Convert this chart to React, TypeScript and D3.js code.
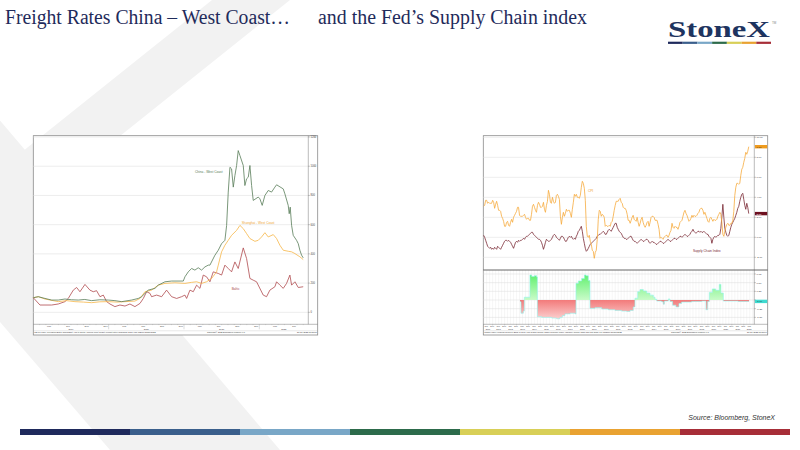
import React from 'react';
import * as d3 from 'd3';

// ---------------- Left chart: freight rates, rebased (months since 1-Jan-2019, value) ----------------
const chinaWestCoast: [number, number][] = [
  [0, 100], [0.8, 107], [1.86, 95], [2.92, 84], [3.98, 84], [5.04, 91], [6.1, 86], [7.17, 84], [8.2, 88], [9.29, 80],
  [10.6, 86], [11.94, 84], [13, 80], [14.07, 73], [15.66, 84], [16.72, 95], [17.25, 107], [18.31, 152], [19.37, 164],
  [19.9, 186], [20.97, 209], [22.03, 214], [23.89, 214], [24.15, 243], [24.68, 277], [25.21, 300], [25.74, 289],
  [26.27, 305], [26.8, 289], [27.34, 311], [27.87, 323], [28.13, 323], [28.93, 391], [29.46, 425], [29.99, 470],
  [30.52, 493], [30.79, 595], [31.05, 823], [31.32, 993], [31.58, 982], [31.85, 857], [32.11, 936], [32.38, 1005],
  [32.64, 1107], [32.91, 1073], [33.44, 1005], [33.7, 868], [33.97, 914], [34.24, 925], [34.5, 1005], [34.77, 868],
  [35.03, 766], [35.83, 789], [36.09, 777], [36.46, 732], [36.89, 800], [37.42, 834], [37.95, 823], [38.48, 857],
  [38.75, 873], [39.81, 845], [40.07, 811], [40.6, 732], [40.76, 675], [40.92, 720], [41.14, 595], [41.4, 527],
  [41.93, 493], [42.2, 470], [42.46, 425], [42.73, 391], [42.99, 373],
];
const shanghaiWestCoast: [number, number][] = [
  [0, 100], [0.8, 107], [1.86, 91], [3.98, 73], [5.3, 80], [6.63, 73], [8, 70], [9.29, 66], [10.6, 72], [11.94, 73],
  [13.3, 70], [14.6, 73], [16.19, 77], [16.99, 95], [17.78, 141], [18.84, 152], [19.9, 186], [20.97, 198],
  [22.56, 202], [24.15, 198], [25.21, 205], [26.01, 209], [26.8, 198], [27.6, 209], [28.4, 232], [29.19, 277],
  [29.46, 323], [29.99, 414], [30.52, 459], [31.05, 493], [31.58, 527], [32.38, 561], [32.91, 595], [33.44, 573],
  [33.97, 539], [34.5, 505], [35.3, 486], [35.83, 493], [36.36, 516], [36.89, 545], [37.42, 516], [38.22, 532],
  [38.75, 505], [39.28, 459], [39.81, 425], [40.6, 418], [41.14, 414], [41.67, 402], [42.46, 380], [42.99, 361],
];
const baltic: [number, number][] = [
  [0, 100], [1.06, 50], [1.86, 50], [2.92, 50], [3.98, 57], [5.04, 73], [5.57, 95], [6.37, 152], [6.9, 170],
  [7.43, 141], [8.23, 191], [9.02, 152], [9.55, 141], [10.08, 148], [10.62, 107], [11.15, 118], [11.68, 73],
  [12.21, 57], [13.0, 39], [13.8, 50], [14.6, 43], [15.39, 57], [16.19, 39], [16.99, 61], [17.52, 95], [18.05, 141],
  [18.58, 130], [18.84, 107], [19.64, 118], [20.44, 107], [21.23, 152], [22.03, 107], [22.83, 95], [23.62, 107],
  [24.15, 118], [24.42, 95], [24.95, 152], [25.48, 141], [26.01, 186], [26.54, 164], [27.07, 255], [27.6, 243],
  [28.13, 209], [28.66, 277], [29.46, 266], [29.99, 255], [30.52, 323], [31.05, 300], [31.58, 277], [32.11, 345],
  [32.64, 300], [33.44, 441], [33.97, 368], [34.5, 232], [35.03, 220], [35.56, 209], [36.62, 118], [37.15, 107],
  [37.68, 152], [38.48, 175], [38.75, 209], [39.28, 186], [39.81, 164], [40.34, 198], [40.87, 255], [41.14, 186],
  [41.67, 209], [42.2, 170], [42.99, 175],
];
const leftYTicks = [0, 200, 400, 600, 800, 1000, 1200];
const quarterMonths = ['Mar', 'Jun', 'Sep', 'Dec'];
const leftYears = ['2019', '2020', '2021', '2022'];

// ---------------- Right chart: CPI YoY and GSCPI, monthly from Apr 2000 ----------------
const cpiYoY: number[] = [
  3.1, 3.2, 3.7, 3.7, 3.4, 3.5, 3.4, 3.4, 3.4,
  3.7, 3.5, 2.9, 3.3, 3.6, 3.2, 2.7, 2.7, 2.6, 2.1, 1.9, 1.6,
  1.1, 1.1, 1.5, 1.6, 1.2, 1.1, 1.5, 1.8, 1.5, 2.0, 2.2, 2.4,
  2.6, 3.0, 3.0, 2.2, 2.1, 2.1, 2.1, 2.2, 2.3, 2.0, 1.8, 1.9,
  1.9, 1.7, 1.7, 2.3, 3.1, 3.3, 3.0, 2.7, 2.5, 3.2, 3.5, 3.3,
  3.0, 3.0, 3.1, 3.5, 2.8, 2.5, 3.2, 3.6, 4.7, 4.3, 3.5, 3.4,
  4.0, 3.6, 3.4, 3.5, 4.2, 4.3, 4.1, 3.8, 2.1, 1.3, 2.0, 2.5,
  2.1, 2.4, 2.8, 2.6, 2.7, 2.7, 2.4, 2.0, 2.8, 3.5, 4.3, 4.1,
  4.3, 4.0, 4.0, 3.9, 4.2, 5.0, 5.6, 5.4, 4.9, 3.7, 1.1, 0.1,
  0.0, 0.2, -0.4, -0.7, -1.3, -1.4, -2.1, -1.5, -1.3, -0.2, 1.8, 2.7,
  2.6, 2.1, 2.3, 2.2, 2.0, 1.1, 1.2, 1.1, 1.1, 1.2, 1.1, 1.5,
  1.6, 2.1, 2.7, 3.2, 3.6, 3.6, 3.6, 3.8, 3.9, 3.5, 3.4, 3.0,
  2.9, 2.9, 2.7, 2.3, 1.7, 1.7, 1.4, 1.7, 2.0, 2.2, 1.8, 1.7,
  1.6, 2.0, 1.5, 1.1, 1.4, 1.8, 2.0, 1.5, 1.2, 1.0, 1.2, 1.5,
  1.6, 1.1, 1.5, 2.0, 2.1, 2.1, 2.0, 1.7, 1.7, 1.7, 1.3, 0.8,
  -0.1, 0.0, -0.1, -0.2, 0.0, 0.1, 0.2, 0.2, 0.0, 0.2, 0.5, 0.7,
  1.4, 1.0, 0.9, 1.1, 1.0, 1.0, 0.8, 1.1, 1.5, 1.6, 1.7, 2.1,
  2.5, 2.7, 2.4, 2.2, 1.9, 1.6, 1.7, 1.9, 2.2, 2.0, 2.2, 2.1,
  2.1, 2.2, 2.4, 2.5, 2.8, 2.9, 2.9, 2.7, 2.3, 2.5, 2.2, 1.9,
  1.6, 1.5, 1.9, 2.0, 1.8, 1.6, 1.8, 1.7, 1.7, 1.8, 2.1, 2.3,
  2.5, 2.3, 1.5, 0.3, 0.1, 0.6, 1.0, 1.3, 1.4, 1.2, 1.2, 1.4,
  1.4, 1.7, 2.6, 4.2, 5.0, 5.4, 5.4, 5.3, 5.4, 6.2, 6.8, 7.0,
  7.5, 7.9, 8.5, 8.3, 8.6, 9.06,
];
const supplyChainIndex: number[] = [
  0.2, 0.0, -0.3, -0.6, -0.9, -1.0, -1.1, -1.0, -1.2,
  -1.1, -1.2, -1.0, -1.1, -1.2, -0.9, -1.0, -1.1, -1.2, -1.0, -0.8, -0.6,
  -0.4, -0.3, -0.3, -0.4, -0.3, -0.4, -0.5, -0.7, -0.9, -1.1, -0.8, -0.5,
  -0.4, -0.5, -0.3, -0.4, -0.3, -0.3, -0.2, -0.1, -0.2, 0.0, 0.1, 0.1,
  0.2, 0.3, 0.4, 0.5, 0.5, 0.3, 0.2, 0.1, 0.0, -0.1, -0.2, -0.2,
  -0.3, -0.5, -0.8, -1.2, -0.9, -0.5, -0.2, -0.3, -0.4, -0.4, -0.3, -0.2,
  0.0, 0.2, 0.3, 0.2, 0.0, -0.1, -0.2, -0.3, -0.1, 0.1, 0.1, 0.0,
  -0.2, -0.4, -0.4, -0.2, 0.0, 0.1, 0.0, 0.1, -0.1, -0.2, -0.1, -0.2,
  0.1, 0.3, 0.6, 0.7, 0.9, 1.1, 0.6, -0.1, -0.6, -1.1, -1.4, -1.3,
  -1.1, -0.9, -0.7, -0.6, -0.5, -0.4, -0.3, -0.2, -0.1, 0.1, 0.2, 0.3,
  0.3, 0.4, 0.5, 0.6, 0.5, 0.3, 0.3, 0.5, 0.7, 0.8, 0.7, 0.6,
  0.8, 1.0, 1.2, 1.4, 1.4, 1.0, 0.8, 0.6, 0.5, 0.4, 0.2, 0.0,
  -0.1, -0.1, -0.2, -0.2, -0.1, 0.0, 0.1, 0.1, -0.1, -0.3, -0.4, -0.4,
  -0.5, -0.6, -0.5, -0.4, -0.3, -0.2, -0.3, -0.4, -0.4, -0.3, -0.2, -0.2,
  -0.3, -0.5, -0.6, -0.5, -0.4, -0.5, -0.5, -0.6, -0.7, -0.7, -0.6, -0.5,
  -0.4, -0.4, -0.5, -0.6, -0.6, -0.5, -0.4, -0.3, -0.2, -0.3, -0.4, -0.4,
  -0.3, -0.2, -0.1, -0.1, -0.2, -0.2, -0.1, 0.0, 0.1, 0.1, 0.0, 0.1,
  0.2, 0.3, 0.2, 0.1, 0.1, 0.2, 0.3, 0.5, 0.6, 0.8, 0.6, 0.5,
  0.4, 0.5, 0.6, 0.6, 0.5, 0.6, 0.5, 0.5, 0.6, 0.5, 0.4, 0.3,
  0.3, 0.1, 0.0, -0.1, -0.6, -0.2, 0.0, 0.1, 0.0, 0.1, 0.2, 0.2,
  0.3, 0.9, 2.0, 3.3, 2.0, 0.9, 0.5, 0.2, 0.1, 0.2, 0.6, 1.0,
  1.3, 1.5, 1.7, 1.9, 2.2, 2.5, 2.9, 3.1, 3.6, 4.0, 4.3, 4.4,
  3.8, 3.2, 2.8, 3.4, 3.0, 2.37,
];
// lower panel step indicator (year, value)
const stepYears = [
  2003.29, 2003.37, 2003.57, 2003.65, 2004.07, 2004.12, 2004.26, 2004.49, 2004.68, 2004.74, 2005.1, 2005.52,
  2005.94, 2006.35, 2006.63, 2006.83, 2007.05, 2007.47, 2007.89, 2007.97, 2008.17, 2008.44, 2008.67, 2008.81,
  2009.0, 2009.14, 2009.56, 2010.12, 2010.67, 2011.23, 2011.79, 2012.21, 2012.49, 2012.76, 2012.9, 2013.13,
  2013.32, 2013.6, 2013.88, 2014.16, 2014.44, 2014.58, 2014.72, 2015.13, 2015.27, 2015.36, 2015.69, 2015.83,
  2016.05, 2016.33, 2016.58, 2016.8, 2017.64, 2018.48, 2018.84, 2018.98, 2019.12, 2019.37, 2019.65, 2019.95,
  2020.09, 2020.29, 2021.54, 2022.44,
];
const stepValues = [
  -0.05, -0.38, -0.32, 0.08, 0.08, 0.72, 0.68, 0.7, 0.66, -0.48, -0.5, -0.5,
  -0.52, -0.54, -0.5, -0.45, -0.4, -0.38, -0.4, 0.48, 0.55, 0.62, 0.72, 0.7,
  0.56, -0.24, -0.22, -0.26, -0.28, -0.3, -0.32, -0.33, -0.3, -0.2, 0.05, 0.24,
  0.3, 0.26, 0.2, 0.14, 0.08, 0.02, -0.03, -0.05, -0.12, -0.03, 0.03, -0.04,
  -0.15, -0.2, -0.1, -0.06, -0.04, -0.03, -0.28, -0.04, 0.22, 0.32, 0.28, 0.45,
  0.2, -0.03, -0.04, -0.04,
];
const upperYTicks = [10, 8, 6, 4, 2, 0, -2];
const lowerYTicks = [0.75, 0.5, 0.25, -0.25, -0.5];
const halfYearMonths = ['Jun', 'Dec'];

const footerBarColors = ['#1f2a5c', '#3a5f8c', '#79a7c7', '#2d6b4b', '#d8cf57', '#e9a231', '#a72e38'];

const SANS = 'Liberation Sans, Arial, sans-serif';

function Frame({ x0, y0, x1, y1 }: { x0: number; y0: number; x1: number; y1: number }) {
  return <rect x={x0} y={y0} width={x1 - x0} height={y1 - y0} fill="#fff" stroke="#8a8a8a" strokeWidth={0.8} />;
}

function LeftChart() {
  const F = { x0: 33.3, y0: 135.7, x1: 317.7, y1: 335 };
  const P = { l: 33.3, r: 308.3, t: 135.7, b: 324.3 };
  const x = d3.scaleLinear().domain([0, 43.8]).range([P.l, P.r]);
  const y = d3.scaleLinear().domain([-82, 1209]).range([P.b, P.t]);
  const line = d3.line<[number, number]>().x(d => x(d[0])).y(d => y(d[1]));
  const qTicks = d3.range(2.5, 43, 3);
  const monthTicks = d3.range(1, 44, 1);
  return (
    <g>
      <Frame {...F} />
      {leftYTicks.map(v => (
        <g key={v}>
          <line x1={P.l} x2={P.r} y1={y(v)} y2={y(v)} stroke="#e0e0e0" strokeWidth={0.6} />
          <line x1={P.r} x2={P.r + 1.5} y1={y(v)} y2={y(v)} stroke="#555" strokeWidth={0.4} />
          <text x={P.r + 2.2} y={y(v) + 0.9} fontSize={2.6} fill="#444" fontFamily={SANS}>{v}</text>
        </g>
      ))}
      <line x1={P.r} x2={P.r} y1={P.t} y2={P.b} stroke="#777" strokeWidth={0.5} />
      <line x1={P.l} x2={F.x1} y1={P.b} y2={P.b} stroke="#777" strokeWidth={0.5} />
      {monthTicks.map(m => (
        <line key={m} x1={x(m)} x2={x(m)} y1={P.b} y2={P.b + (m % 12 === 0 ? 5 : 0.8)} stroke="#888" strokeWidth={0.3} />
      ))}
      {qTicks.map((m, i) => (
        <text key={m} x={x(m)} y={326.9} fontSize={2.3} fill="#444" textAnchor="middle" fontFamily={SANS}>{quarterMonths[i % 4]}</text>
      ))}
      {leftYears.map((yr, i) => {
        const a = i * 12, b = Math.min(i * 12 + 12, 43.8);
        return <text key={yr} x={x((a + b) / 2)} y={329.6} fontSize={2.3} fill="#444" textAnchor="middle" fontFamily={SANS}>{yr}</text>;
      })}
      <line x1={F.x0} x2={F.x1} y1={330.8} y2={330.8} stroke="#aaa" strokeWidth={0.3} />
      <text x={F.x0 + 1} y={333.4} fontSize={2.1} fill="#333" fontFamily={SANS}>FBX01 Index (Freightos Baltic China/East Asia to North America West Coast) Freight rates (Rebased) Daily 01JAN2019-21JUL2022</text>
      <text x={226} y={333.4} fontSize={2.1} fill="#333" textAnchor="middle" fontFamily={SANS}>Copyright© 2022 Bloomberg Finance L.P.</text>
      <text x={F.x1 - 1} y={333.4} fontSize={2.1} fill="#333" textAnchor="end" fontFamily={SANS}>21-Jul-2022 15:23:33</text>
      <path d={line(baltic) ?? ''} fill="none" stroke="#b04a4e" strokeWidth={0.8} />
      <path d={line(shanghaiWestCoast) ?? ''} fill="none" stroke="#f6b647" strokeWidth={0.8} />
      <path d={line(chinaWestCoast) ?? ''} fill="none" stroke="#587c58" strokeWidth={0.8} />
      <text x={x(25.75)} y={y(955)} fontSize={3.2} fill="#587c58" fontFamily={SANS}>China - West Coast</text>
      <text x={x(33.2)} y={y(605)} fontSize={3.2} fill="#f0a838" fontFamily={SANS}>Shanghai - West Coast</text>
      <text x={x(31.6)} y={y(155)} fontSize={3.2} fill="#a8464a" fontFamily={SANS}>Baltic</text>
    </g>
  );
}

function RightChart() {
  const F = { x0: 483.3, y0: 135.7, x1: 767.7, y1: 335 };
  const P = { l: 483.3, r: 754.3, t: 135.7, mid: 270, b: 324.3 };
  const x = d3.scaleLinear().domain([2000.22, 2022.88]).range([P.l, P.r]);
  const yU = d3.scaleLinear().domain([-3.27, 10.16]).range([P.mid, P.t]);
  const yL = d3.scaleLinear().domain([-0.7, 0.865]).range([P.b, P.mid]);
  const monthYear = (k: number) => 2000.25 + k / 12;
  const lineU = d3.line<number>().x((_, i) => x(monthYear(i))).y(d => yU(d));
  const steps: [number, number][] = stepYears.map((t, i) => [t, stepValues[i]]);
  const area = d3.area<[number, number]>().x(d => x(d[0])).y0(yL(0)).y1(d => yL(d[1])).curve(d3.curveStepAfter);
  const stepLine = d3.line<[number, number]>().x(d => x(d[0])).y(d => yL(d[1])).curve(d3.curveStepAfter);
  const quarters = d3.range(2000.25, 2022.8, 0.25);
  const years = d3.range(2000, 2023);
  const lastCpi = cpiYoY[cpiYoY.length - 1];
  const lastGs = supplyChainIndex[supplyChainIndex.length - 1];
  const lastStep = stepValues[stepValues.length - 1];
  const box = (yy: number, fill: string, txt: string, color: string) => (
    <g>
      <rect x={P.r + 0.6} y={yy - 1.7} width={F.x1 - P.r - 1.1} height={3.4} fill={fill} />
      <text x={P.r + 2.2} y={yy + 0.9} fontSize={2.5} fill={color} fontFamily={SANS}>{txt}</text>
    </g>
  );
  return (
    <g>
      <defs>
        <linearGradient id="gGreen" gradientUnits="userSpaceOnUse" x1={0} y1={P.mid} x2={0} y2={yL(0)}>
          <stop offset="0" stopColor="#4fee5f" />
          <stop offset="1" stopColor="#c9fbc9" />
        </linearGradient>
        <linearGradient id="gRed" gradientUnits="userSpaceOnUse" x1={0} y1={yL(0)} x2={0} y2={P.b}>
          <stop offset="0" stopColor="#f27a7a" />
          <stop offset="1" stopColor="#ffe8e8" />
        </linearGradient>
        <clipPath id="cAbove"><rect x={P.l} y={P.mid} width={P.r - P.l} height={yL(0) - P.mid} /></clipPath>
        <clipPath id="cBelow"><rect x={P.l} y={yL(0)} width={P.r - P.l} height={P.b - yL(0)} /></clipPath>
      </defs>
      <Frame {...F} />
      {upperYTicks.map(v => (
        <g key={v}>
          <line x1={P.l} x2={P.r} y1={yU(v)} y2={yU(v)} stroke="#e0e0e0" strokeWidth={0.6} />
          <line x1={P.r} x2={P.r + 1.5} y1={yU(v)} y2={yU(v)} stroke="#555" strokeWidth={0.4} />
          <text x={P.r + 2.2} y={yU(v) + 0.9} fontSize={2.5} fill="#444" fontFamily={SANS}>{v.toFixed(2)}</text>
        </g>
      ))}
      {quarters.map(q => (
        <line key={q} x1={x(q)} x2={x(q)} y1={P.mid} y2={P.b} stroke="#e4e4e4" strokeWidth={0.35} />
      ))}
      {[...lowerYTicks, 0].map(v => (
        <g key={v}>
          <line x1={P.l} x2={P.r} y1={yL(v)} y2={yL(v)} stroke="#dcdcdc" strokeWidth={0.5} />
          <line x1={P.r} x2={P.r + 1.5} y1={yL(v)} y2={yL(v)} stroke="#555" strokeWidth={0.4} />
        </g>
      ))}
      {lowerYTicks.map(v => (
        <text key={v} x={P.r + 2.2} y={yL(v) + 0.9} fontSize={2.5} fill="#444" fontFamily={SANS}>{v.toFixed(2)}</text>
      ))}
      <path d={area(steps) ?? ''} fill="url(#gGreen)" clipPath="url(#cAbove)" />
      <path d={area(steps) ?? ''} fill="url(#gRed)" clipPath="url(#cBelow)" />
      <path d={stepLine(steps) ?? ''} fill="none" stroke="#8ff5ee" strokeWidth={0.6} />
      <path d={lineU(supplyChainIndex) ?? ''} fill="none" stroke="#7a2834" strokeWidth={0.8} />
      <path d={lineU(cpiYoY) ?? ''} fill="none" stroke="#f6ab3e" strokeWidth={0.8} />
      <text x={x(2008.97)} y={yU(4.5)} fontSize={3.2} fill="#f0a030" fontFamily={SANS}>CPI</text>
      <text x={x(2017.75)} y={yU(-1.5)} fontSize={3.2} fill="#7a2834" fontFamily={SANS}>Supply Chain Index</text>
      <line x1={P.r} x2={P.r} y1={P.t} y2={P.b} stroke="#777" strokeWidth={0.5} />
      <line x1={F.x0} x2={F.x1} y1={P.mid} y2={P.mid} stroke="#555" strokeWidth={0.9} />
      <line x1={P.l} x2={F.x1} y1={P.b} y2={P.b} stroke="#777" strokeWidth={0.5} />
      {box(yU(lastCpi), '#ef9b1d', lastCpi.toFixed(2), '#222')}
      {box(yU(lastGs), '#6d1020', lastGs.toFixed(2), '#fff')}
      {box(yL(lastStep), '#3fdad0', lastStep.toFixed(2), '#222')}
      {years.map(yr => (
        <g key={yr}>
          {[0.46, 0.96].map((o, j) => {
            const t = yr + o;
            if (t < 2000.22 || t > 2022.88) return null;
            return <text key={j} x={x(t)} y={326.9} fontSize={2.1} fill="#444" textAnchor="middle" fontFamily={SANS}>{halfYearMonths[j]}</text>;
          })}
          {yr > 2000 && <line x1={x(yr)} x2={x(yr)} y1={P.b} y2={P.b + 1.2} stroke="#888" strokeWidth={0.3} />}
          <text x={x((Math.max(yr, 2000.22) + Math.min(yr + 1, 2022.88)) / 2)} y={329.6} fontSize={2.1} fill="#444" textAnchor="middle" fontFamily={SANS}>{yr}</text>
        </g>
      ))}
      <line x1={F.x0} x2={F.x1} y1={330.8} y2={330.8} stroke="#aaa" strokeWidth={0.3} />
      <text x={F.x0 + 1} y={333.4} fontSize={2.1} fill="#333" fontFamily={SANS}>GSCPI Index (Federal Reserve Bank of New York Global Supply Chain Pressure Index (GSCPI)) supply chain and CPI Daily 01APR2000-21JUL2022</text>
      <text x={690} y={333.4} fontSize={2.1} fill="#333" textAnchor="middle" fontFamily={SANS}>Copyright© 2022 Bloomberg Finance L.P.</text>
      <text x={F.x1 - 1} y={333.4} fontSize={2.1} fill="#333" textAnchor="end" fontFamily={SANS}>21-Jul-2022 15:23:07</text>
    </g>
  );
}

export default function App() {
  const W = 800, H = 450;
  const barX = d3.scaleLinear().domain([0, footerBarColors.length]).range([20, 790]);
  const logoX = d3.scaleLinear().domain([0, footerBarColors.length]).range([668, 771]);
  return (
    <svg width={W} height={H} viewBox={`0 0 ${W} ${H}`} style={{ position: 'absolute', left: 0, top: 0, background: '#fff' }}>
      <rect width={W} height={H} fill="#fff" />
      {/* background chevron bands */}
      <polygon points={`212,0 290,0 ${290 - 1.25 * H},${H} ${212 - 1.25 * H},${H}`} fill="#f2f2f2" />
      <polygon points={`-277,0 -102.5,0 280,${H} 110,${H}`} fill="#f2f2f2" />
      {/* title */}
      <text x={5} y={24} fontSize={20} fill="#1f2b5b" fontFamily="Liberation Serif, Times New Roman, serif" textLength={285} lengthAdjust="spacingAndGlyphs">Freight Rates China – West Coast…</text>
      <text x={318} y={24} fontSize={20} fill="#1f2b5b" fontFamily="Liberation Serif, Times New Roman, serif" textLength={269} lengthAdjust="spacingAndGlyphs">and the Fed’s Supply Chain index</text>
      {/* logo */}
      <text x={668} y={36.5} fontSize={23} fontWeight="bold" fill="#1e3460" fontFamily="Liberation Serif, Times New Roman, serif" textLength={102} lengthAdjust="spacingAndGlyphs">StoneX</text>
      <text x={772} y={24} fontSize={3} fill="#888" fontFamily={SANS}>TM</text>
      {footerBarColors.map((c, i) => (
        <rect key={'l' + i} x={logoX(i)} y={41.7} width={logoX(i + 1) - logoX(i)} height={2.2} fill={c} />
      ))}
      <LeftChart />
      <RightChart />
      <text x={775} y={420} fontSize={7} fontStyle="italic" fill="#333" textAnchor="end" fontFamily={SANS}>Source: Bloomberg, StoneX</text>
      {footerBarColors.map((c, i) => (
        <rect key={'b' + i} x={barX(i)} y={429} width={barX(i + 1) - barX(i)} height={6} fill={c} />
      ))}
    </svg>
  );
}
